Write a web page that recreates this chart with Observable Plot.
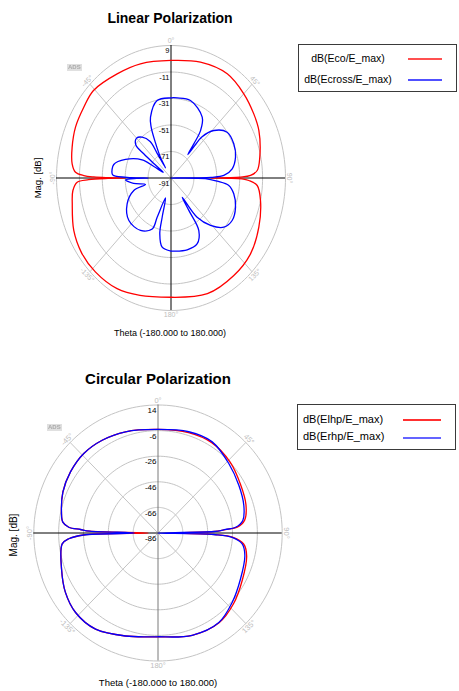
<!DOCTYPE html>
<html><head><meta charset="utf-8">
<script src="https://cdn.jsdelivr.net/npm/d3@7"></script>
<script src="https://cdn.jsdelivr.net/npm/@observablehq/plot@0.6"></script>
<style>
html,body{margin:0;padding:0;background:#fff;}
#fig{position:relative;width:459px;height:691px;overflow:hidden;font-family:Arial,"Liberation Sans",Helvetica,sans-serif;color:#000;}
#fig svg{position:absolute;left:0;}
.t{position:absolute;white-space:nowrap;line-height:1;}
.box{position:absolute;border:1px solid #3a3a3a;box-sizing:border-box;}
.sw{position:absolute;height:2px;}
.wm{position:absolute;font-size:6px;font-weight:bold;color:#aaa;background:#e0e0e0;line-height:7px;padding:0 1px;filter:blur(0.4px);}
</style></head><body><div id="fig"></div>
<script>
// ---------- data: Linear polarization (theta in degrees, magnitude in dB) ----------
const ecoTheta = [-180,-163,-150.6,-137,-126,-115,-103,-96.3,-92.2,-91,-90.3,-90,-89.7,-89.3,-88.6,-87,-82.9,-75,-65.3,-55,-45.7,-30.9,-17.2,0,16.4,32,45,56.2,65,78.6,85.7,88.4,89.4,89.8,90,90.2,90.6,91.6,94.3,102.3,115.8,129.5,143.3,160,180];
const ecoDb    = [-1.0,1.6,4.9,5.9,5.4,2.7,-2.5,-4.8,-9,-19,-36,-51,-36,-23.6,-14.8,-7.5,-4,-1.6,0.8,2,3.6,0.6,-0.8,-2.3,0.1,1.7,-1.1,-4,-6.3,-11.9,-15.5,-21.5,-30.3,-41,-56,-41,-29,-23,-15.5,-11,-5.8,-1,0.8,1.9,-1.0];

const ecrossTheta = [-180,-171.6,-166.9,-165.4,-162.3,-157.8,-156.9,-146.1,-131.1,-117,-106.1,-102.4,-97,-92,-90.5,-90,-89.5,-88,-86.5,-78.5,-70.6,-61.5,-60,-57,-54,-52.5,-51,-45,-39.3,-33.5,-33,-32,-30.5,-27,-24.3,-21.3,-11.7,0,5.1,16.2,30.7,35.8,37.7,39.7,40.3,41,46.2,54.8,64.8,74.4,82.6,87.6,89.2,90,90.8,93.4,96.4,102.3,111.3,121,128.8,136,142.4,146,147.5,148.5,155.4,165.4,177.4,180];
const ecrossDb    = [-35.8,-38.2,-47.8,-60.4,-75.3,-59,-49.2,-43.3,-42.2,-48,-57.2,-68.2,-58,-51.3,-61,-71,-56,-41,-39.5,-40,-48.9,-62.3,-73.7,-83,-73,-61,-51.5,-48.5,-51.2,-58,-69,-82,-73,-61,-48.9,-41.7,-31.3,-30.5,-30.3,-30.1,-37.6,-46.9,-58.4,-68,-59,-50,-39.2,-31,-30.4,-32.5,-37.1,-44.8,-56,-91,-61,-50.6,-40.2,-34.9,-30.5,-28.7,-31.8,-41.3,-53.6,-73.5,-62,-44.5,-36.3,-35,-35.7,-35.8];

const linRingValues  = [9, -11, -31, -51, -71];
const linTickLabels  = [9, -11, -31, -51, -71, -91];

// ---------- data: Circular polarization ----------
const circTheta = [-180,-162,-146.2,-133.1,-121.9,-109.9,-96.3,-93.6,-91.5,-90,-88.5,-87.5,-86.4,-83.7,-78.2,-67.3,-55.9,-43.9,-31.8,-18.3,0,17.4,31.5,46.4,60.2,72.6,81.8,85.9,87.1,88.5,90,91.5,93.2,97.1,104.1,118.4,132.3,145,161,180];
const erhpDb = [-5.1,-1.4,4.4,4.9,1.8,-3.4,-8.4,-14,-26,-67,-31,-23.5,-14,-8.9,-6.6,-3,-0.9,0.2,-0.7,-2.7,-5.1,-3.1,-2.5,-7.3,-11,-13.6,-17,-23.4,-31.6,-41,-86,-41,-26.2,-17.7,-13.9,-10.5,-5.3,-0.6,-1.5,-5.1];
const elhpDb = [-5.1,-1.4,4.4,4.9,1.8,-3.4,-8.4,-14,-26,-78,-31,-23.5,-14,-8.9,-6.6,-3,-0.9,0.2,-0.7,-2.7,-5.1,-3.8,-3.2,-5.8,-9.5,-11.8,-15.5,-22,-30.5,-40,-71,-40,-25.5,-16.5,-12.4,-8.8,-3.8,-0.3,-1.5,-5.1];

const circRingValues = [14, -6, -26, -46, -66];
const circTickLabels = [14, -6, -26, -46, -66, -86];

const angleTicks = [0, 45, 90, 135, 180, -135, -90, -45];
const spokeAngles = [45, 135, -45, -135];

// ---------- drawing ----------
function polarChart(o) {
  const span = o.rMax - o.rMin;
  const u = v => Math.max(0, (v - o.rMin) / span);
  const rad = a => a * Math.PI / 180;
  const px = (r, a) => r * Math.sin(rad(a));
  const py = (r, a) => r * Math.cos(rad(a));
  const circleAngles = d3.range(0, 361, 2);
  const ringPts = o.rings.flatMap(v => circleAngles.map(a => ({v, a})));
  const marks = [
    Plot.line(ringPts, {x: d => px(u(d.v), d.a), y: d => py(u(d.v), d.a), z: "v", stroke: "#c4c4c4", strokeWidth: 1}),
    Plot.link(spokeAngles, {x1: () => 0, y1: () => 0, x2: a => px(1, a), y2: a => py(1, a), stroke: "#c4c4c4", strokeWidth: 1}),
    Plot.ruleY([0], {x1: -1, x2: 1, stroke: "#000", strokeWidth: 1}),
    Plot.ruleX([0], {y1: -1, y2: 1, stroke: o.vAxis, strokeWidth: 1})
  ];
  for (const s of o.series) {
    const pts = s.theta.map((t, i) => ({t, v: s.db[i]}));
    marks.push(Plot.line(pts, {x: d => px(u(d.v), d.t), y: d => py(u(d.v), d.t), stroke: s.color, strokeWidth: 1.3, curve: "catmull-rom"}));
  }
  marks.push(Plot.text(o.labels, {x: () => 0, y: v => u(v), text: v => String(v), textAnchor: "end", lineAnchor: "top", dx: -1.5, dy: 2.5, fontSize: o.tickFont, fill: "#000"}));
  marks.push(Plot.text(angleTicks, {x: a => px(1.035, a), y: a => py(1.035, a), text: a => a + "°",
    rotate: a => a > 90 ? a - 180 : a < -90 ? a + 180 : a, fill: "#bdbdbd", fontSize: o.angleFont}));
  return Plot.plot({
    width: o.width, height: o.height, margin: 0,
    style: {fontFamily: "Arial, 'Liberation Sans', sans-serif", background: "transparent", overflow: "visible"},
    x: {domain: [-1, 1], range: [o.cx - o.rx, o.cx + o.rx], axis: null},
    y: {domain: [-1, 1], range: [o.cy + o.ry, o.cy - o.ry], axis: null},
    marks
  });
}

const fig = document.getElementById("fig");
const top1 = polarChart({width: 459, height: 345, cx: 170.5, cy: 177.5, rx: 114.5, ry: 132.5, rMin: -91, rMax: 9,
  rings: linRingValues, labels: linTickLabels, tickFont: 7.5, angleFont: 7, vAxis: "#000",
  series: [{theta: ecoTheta, db: ecoDb, color: "#ff0000"}, {theta: ecrossTheta, db: ecrossDb, color: "#0000ff"}]});
top1.style.top = "0px";
fig.appendChild(top1);
const bot = polarChart({width: 459, height: 346, cx: 157.5, cy: 187.5, rx: 124.2, ry: 128, rMin: -86, rMax: 14,
  rings: circRingValues, labels: circTickLabels, tickFont: 8, angleFont: 7.5, vAxis: "#7a7a7a",
  series: [{theta: circTheta, db: elhpDb, color: "#ff0000"}, {theta: circTheta, db: erhpDb, color: "#0000ff"}]});
bot.style.top = "345px";
fig.appendChild(bot);

function el(cls, style, text) {
  const d = document.createElement("div");
  d.className = cls;
  Object.assign(d.style, style);
  if (text != null) d.textContent = text;
  fig.appendChild(d);
  return d;
}
// titles
el("t", {left: "0px", width: "340px", textAlign: "center", top: "10.7px", fontSize: "14px", fontWeight: "bold"}, "Linear Polarization");
el("t", {left: "0px", width: "316px", textAlign: "center", top: "370.8px", fontSize: "15px", fontWeight: "bold"}, "Circular Polarization");
// x labels
el("t", {left: "0px", width: "340px", textAlign: "center", top: "329.4px", fontSize: "9px"}, "Theta (-180.000 to 180.000)");
el("t", {left: "0px", width: "316px", textAlign: "center", top: "678px", fontSize: "9.5px"}, "Theta (-180.000 to 180.000)");
// y labels
el("t", {left: "37.5px", top: "178px", fontSize: "9.5px", transform: "translate(-50%,-50%) rotate(-90deg)"}, "Mag. [dB]");
el("t", {left: "14px", top: "535px", fontSize: "10px", transform: "translate(-50%,-50%) rotate(-90deg)"}, "Mag. [dB]");
// watermarks
el("wm", {left: "67px", top: "64px"}, "ADS");
el("wm", {left: "47px", top: "424px"}, "ADS");
// legend top
el("box", {left: "298px", top: "44px", width: "159px", height: "48px"});
el("t", {left: "298px", width: "100px", textAlign: "center", top: "53.1px", fontSize: "10.5px"}, "dB(Eco/E_max)");
el("t", {left: "298px", width: "100px", textAlign: "center", top: "73.8px", fontSize: "10.5px"}, "dB(Ecross/E_max)");
el("sw", {left: "408px", top: "58px", width: "34px", background: "#ff5050"});
el("sw", {left: "408px", top: "79px", width: "34px", background: "#5050ff"});
// legend bottom
el("box", {left: "297px", top: "404px", width: "159px", height: "46px"});
el("t", {left: "303px", top: "413.6px", fontSize: "11px"}, "dB(Elhp/E_max)");
el("t", {left: "303px", top: "431.3px", fontSize: "11px"}, "dB(Erhp/E_max)");
el("sw", {left: "403px", top: "419px", width: "38px", background: "#ff3030"});
el("sw", {left: "403px", top: "437px", width: "38px", background: "#6464ff"});
</script></body></html>
